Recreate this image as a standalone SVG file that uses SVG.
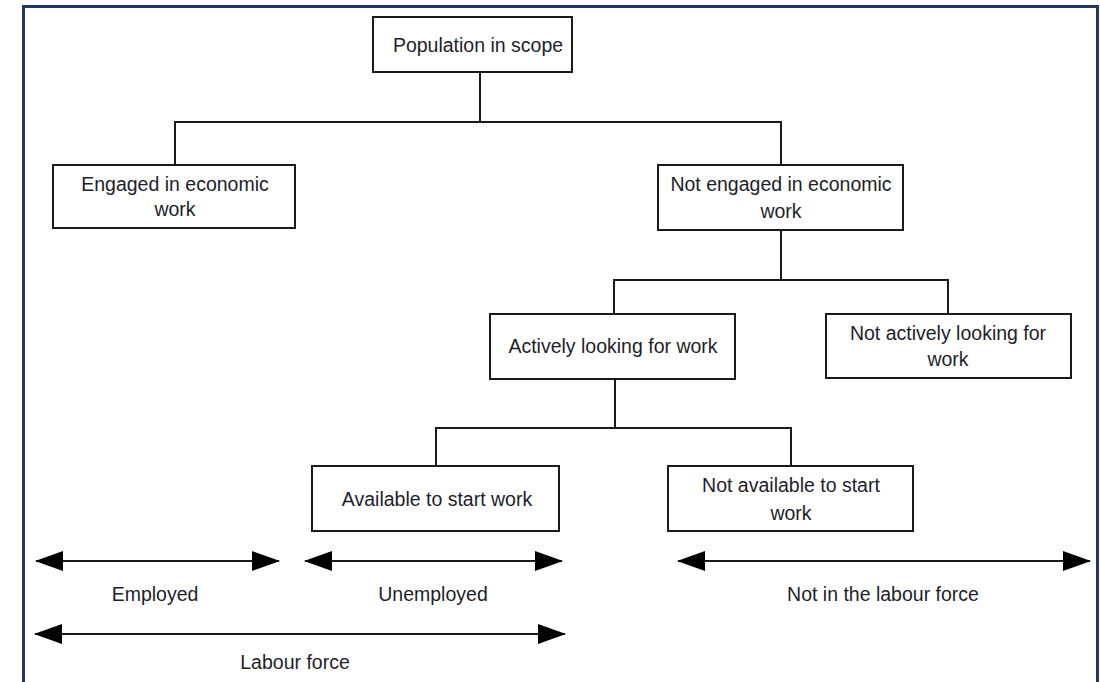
<svg xmlns="http://www.w3.org/2000/svg" width="1100" height="682" viewBox="0 0 1100 682">
<style>
.box{fill:#fff;stroke:#1a1a1a;stroke-width:2}
.t{font-family:"Liberation Sans",Arial,sans-serif;font-size:19.5px;fill:#1e1e2a;text-anchor:middle}
.c{fill:none;stroke:#1a1a1a;stroke-width:2}
.a{fill:none;stroke:#1a1a1a;stroke-width:2}
</style>
<defs>
<marker id="ah" viewBox="0 0 28 20" refX="27" refY="10" markerWidth="28" markerHeight="20" markerUnits="userSpaceOnUse" orient="auto-start-reverse">
<path d="M0,0 L28,10 L0,20 Z" fill="#000"/>
</marker>
</defs>
<rect x="0" y="0" width="1100" height="682" fill="#fff"/>
<path d="M23.5,682 V6.5 H1097.5 V682" fill="none" stroke="#1f3864" stroke-width="3"/>
<g id="connectors">
<path class="c" d="M480,72 V122 M175,165 V122 H781 V165"/>
<path class="c" d="M781,230 V280 M614,314 V280 H948 V314"/>
<path class="c" d="M615,379 V428 M436,466 V428 H791 V466"/>
<line class="a" x1="36" y1="561" x2="279" y2="561" marker-start="url(#ah)" marker-end="url(#ah)"/>
<line class="a" x1="305" y1="561" x2="562" y2="561" marker-start="url(#ah)" marker-end="url(#ah)"/>
<line class="a" x1="678" y1="561" x2="1090" y2="561" marker-start="url(#ah)" marker-end="url(#ah)"/>
<line class="a" x1="35" y1="634" x2="565" y2="634" marker-start="url(#ah)" marker-end="url(#ah)"/>
</g>
<g id="n-pop"><rect class="box" x="373" y="17" width="199" height="55"/><text class="t" x="478" y="52">Population in scope</text></g>
<g id="n-engaged"><rect class="box" x="53" y="165" width="242" height="63"/><text class="t" x="175" y="191">Engaged in economic</text><text class="t" x="175" y="216">work</text></g>
<g id="n-notengaged"><rect class="box" x="658" y="165" width="245" height="65"/><text class="t" x="781" y="191">Not engaged in economic</text><text class="t" x="781" y="218">work</text></g>
<g id="n-active"><rect class="box" x="490" y="314" width="245" height="65"/><text class="t" x="613" y="353">Actively looking for work</text></g>
<g id="n-notactive"><rect class="box" x="826" y="314" width="245" height="64"/><text class="t" x="948" y="340">Not actively looking for</text><text class="t" x="948" y="366">work</text></g>
<g id="n-avail"><rect class="box" x="312" y="466" width="247" height="65"/><text class="t" x="437" y="506">Available to start work</text></g>
<g id="n-notavail"><rect class="box" x="668" y="466" width="245" height="65"/><text class="t" x="791" y="492">Not available to start</text><text class="t" x="791" y="520">work</text></g>
<g id="labels">
<text class="t" x="155" y="601">Employed</text>
<text class="t" x="433" y="601">Unemployed</text>
<text class="t" x="883" y="601">Not in the labour force</text>
<text class="t" x="295" y="669">Labour force</text>
</g>
</svg>
